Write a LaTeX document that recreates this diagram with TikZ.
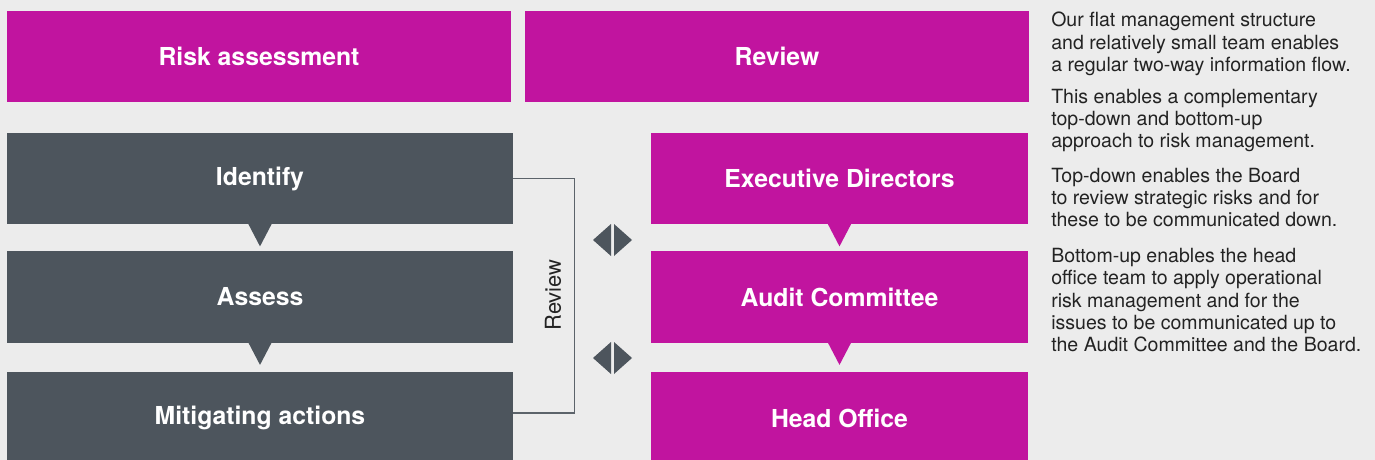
\documentclass[tikz,border=0pt]{standalone}
\usepackage{fontspec}
\setmainfont{TeX Gyre Heros}
\usepackage{xcolor}
\usetikzlibrary{positioning}
\definecolor{brandmagenta}{RGB}{193, 20, 159}
\definecolor{slategrey}{RGB}{77, 85, 93}
\definecolor{panelgrey}{RGB}{236, 236, 236}
\definecolor{bodytext}{RGB}{35, 35, 35}
\definecolor{linegrey}{RGB}{92, 99, 106}

\begin{document}
\begin{tikzpicture}[x=0.025cm, y=-0.025cm,
    box/.style={minimum height=2.28cm, inner sep=0pt, text=white,
        font=\fontsize{17.6}{20}\selectfont\bfseries},
    headbox/.style={box, fill=brandmagenta, minimum width=12.6cm},
    stepbox/.style={box, fill=slategrey, minimum width=12.65cm},
    levelbox/.style={box, fill=brandmagenta, minimum width=9.425cm},
    swap/.style={fill=slategrey}]
            % Background panel
            \useasboundingbox (0,0) rectangle (1375,460);
            \fill[panelgrey] (0,0) rectangle (1375,460);
            
            % Column headings
            \node[headbox] (riskhead) at (259,56.5) {Risk assessment};
            \node[headbox] (reviewhead) at (777,56.5) {Review};
            
            % Process steps
            \node[stepbox] (identify) at (260,178.5) {Identify};
            \node[stepbox] (assess) at (260,297) {Assess};
            \node[stepbox] (mitigate) at (260,418) {Mitigating actions};
            
            % Reporting levels
            \node[levelbox] (execdir) at (839.5,178.5) {Executive Directors};
            \node[levelbox] (auditcom) at (839.5,297) {Audit Committee};
            \node[levelbox] (headoffice) at (839.5,418) {Head Office};
            
            % Notches pointing down to the next box
            \foreach \n/\c in {identify/slategrey, assess/slategrey, execdir/brandmagenta, auditcom/brandmagenta}
                \fill[\c] (\n.south) ++(-12,-1) -- ++(24,0) -- ++(-12,23) -- cycle;
            
            % Review bracket
            \coordinate (bend) at (574.5,413);
            \draw[linegrey, line width=1.05pt] (identify.east) -| (bend) -- (bend -| mitigate.east);
            \node[bodytext, rotate=90, font=\fontsize{15.6}{18}\selectfont] (reviewlbl) at (553,295) {Review};
            
            % Two-way arrows
            \coordinate (swaptop) at (612.5,240);
            \coordinate (swapbot) at (612.5,358);
            \foreach \s in {swaptop,swapbot} {
                \fill[swap] (\s) ++(-1.5,-16) -- ++(0,32) -- ++(-18,-16) -- cycle;
                \fill[swap] (\s) ++(1.5,-16) -- ++(0,32) -- ++(18,-16) -- cycle;
            }
            
            % Notes on the right
            \node[bodytext, anchor=north west, inner sep=0pt, align=left,
                font=\fontsize{13.9}{15.95}\selectfont] (notes) at (1051,12)
                {Our flat management structure\\
                 and relatively small team enables\\
                 a regular two-way information flow.\\[6.3pt]
                 This enables a complementary\\
                 top-down and bottom-up\\
                 approach to risk management.\\[8.4pt]
                 Top-down enables the Board\\
                 to review strategic risks and for\\
                 these to be communicated down.\\[9.1pt]
                 Bottom-up enables the head\\
                 office team to apply operational\\
                 risk management and for the\\
                 issues to be communicated up to\\
                 the Audit Committee and the Board.};
        \end{tikzpicture}
\end{document}
